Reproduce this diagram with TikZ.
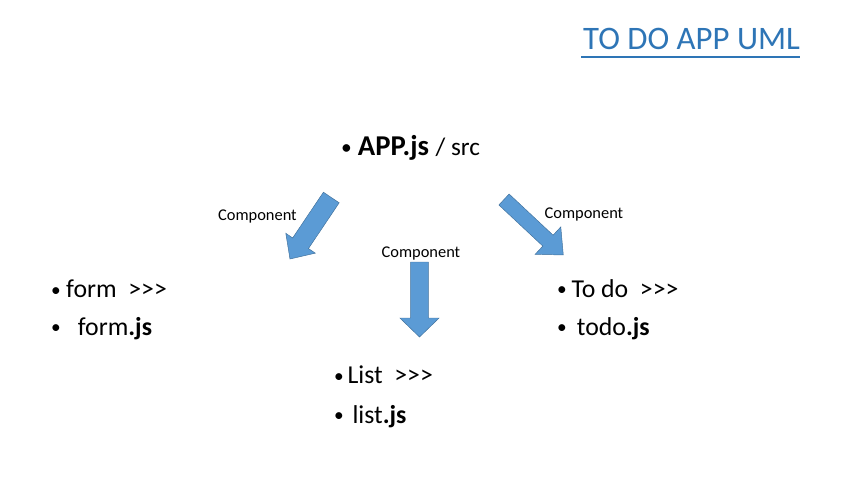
\documentclass[tikz,border=0pt]{standalone}
\usepackage{fontspec}
\setmainfont{Carlito}
\definecolor{titleblue}{HTML}{2E75B6}
\definecolor{arrowfill}{HTML}{5B9BD5}
\definecolor{arrowline}{HTML}{41719C}
%% bullet with its gap
\newcommand{\itembul}[1]{\makebox[#1][l]{\raisebox{0.12ex}{\scalebox{0.75}{\textbullet}}}}
\newcommand{\more}{>\kern0pt>\kern0pt>}
%% block arrow: tail, angle, length, shaft, head, head length
\newcommand{\blockarrow}[6]{%
  \filldraw[blockarrow, shift={#1}, rotate=#2]
    (0,-#4/2) -- ({#3-#6},-#4/2) -- ({#3-#6},-#5/2) -- (#3,0)
    -- ({#3-#6},#5/2) -- ({#3-#6},#4/2) -- (0,#4/2) -- cycle;}
\tikzset{
  entry/.style={anchor=base west, inner sep=0pt, font=\fontsize{22}{26}\selectfont},
  cmp/.style={anchor=base west, inner sep=0pt, font=\fontsize{14}{17}\selectfont},
  blockarrow/.style={fill=arrowfill, draw=arrowline, line width=0.4pt},
}
\begin{document}
\begin{tikzpicture}[x=0.03cm, y=-0.03cm]
    \useasboundingbox (0,0) rectangle (855,479);
    %% title
    \node[anchor=base west, inner sep=0pt, text=titleblue,
          font=\fontsize{28}{32}\selectfont] (title) at (583,50) {TO DO APP UML};
    \draw[titleblue, line width=1.7pt] ([xshift=-1.4pt, yshift=-5.8pt]title.base west)
        -- ([yshift=-5.8pt]title.base east);
    %% root
    \node[entry, font=\fontsize{24.5}{28}\selectfont] (app) at (341,156)
        {\itembul{14.2pt}\textbf{APP.js} {\fontsize{21.5}{25}\selectfont / src}};
    %% arrows (measured by hand)
    \blockarrow{(331.3,197.5)}{236.1}{74.1}{19}{35.6}{19}
    \blockarrow{(419.5,262)}{-90}{75}{17.7}{39.3}{19}
    \blockarrow{(504,199.5)}{-43.1}{81.2}{15}{37.6}{21}
    \node[cmp] (cmpL) at (218,220) {Component};
    \node[cmp] (cmpM) at (381.5,257.5) {Component};
    \node[cmp] (cmpR) at (544.5,218.5) {Component};
    %% components
    \node[entry] (form) at (51,297.5) {\itembul{12.8pt}form\ \ \more};
    \node[entry] (formjs) at (51,335) {\itembul{22.7pt}form\textbf{.js}};
    \node[entry] (list) at (334,383.5) {\itembul{11.4pt}List\ \ \more};
    \node[entry] (listjs) at (334,423) {\itembul{15.6pt}list\textbf{.js}};
    \node[entry] (todo) at (557,297) {\itembul{12.2pt}To do\ \ \more};
    \node[entry] (todojs) at (557,335) {\itembul{16.8pt}todo\textbf{.js}};
\end{tikzpicture}
\end{document}
